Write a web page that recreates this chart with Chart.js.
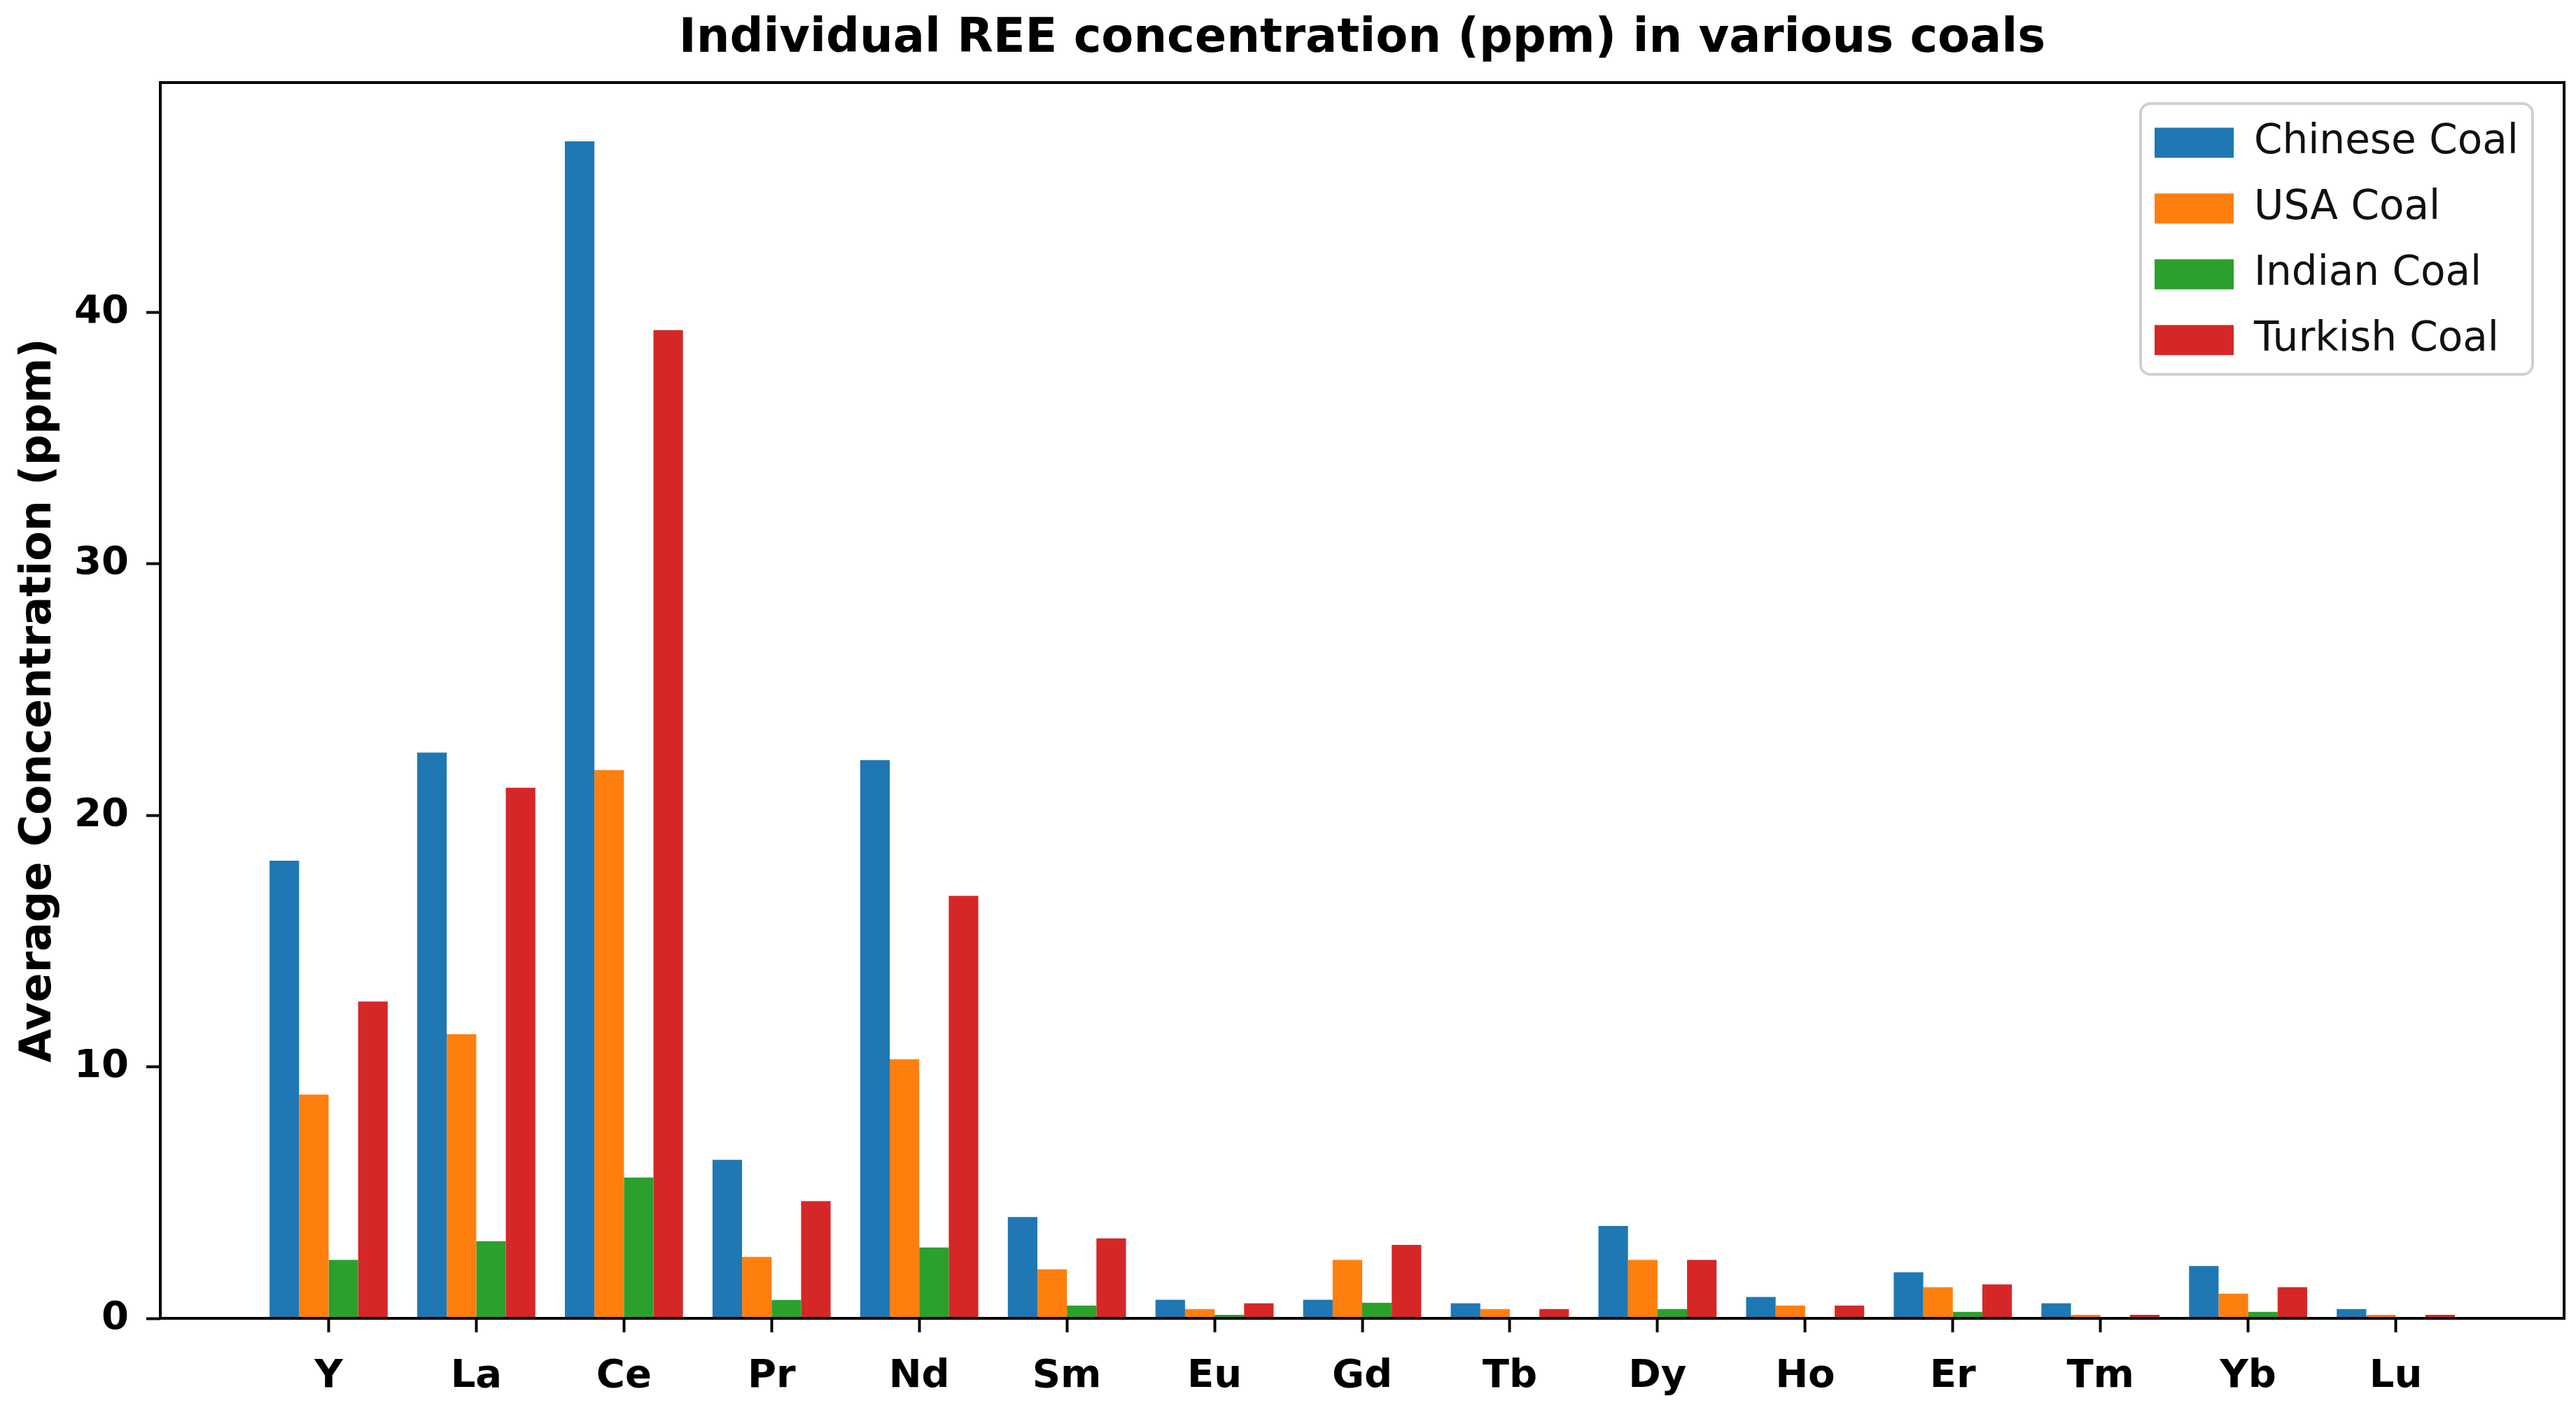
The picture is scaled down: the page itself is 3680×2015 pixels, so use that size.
<!DOCTYPE html>
<html>
<head>
<meta charset="utf-8">
<script src="https://cdn.jsdelivr.net/npm/chart.js@4.4.1/dist/chart.umd.min.js"></script>
<style>
  html, body { margin: 0; padding: 0; background: #ffffff; overflow: hidden; }
  #c { display: block; width: 3680px; height: 2015px; }
</style>
</head>
<body>
<canvas id="c" width="3680" height="2015"></canvas>
<script>
// ---- data ----
const categories = ['Y', 'La', 'Ce', 'Pr', 'Nd', 'Sm', 'Eu', 'Gd', 'Tb', 'Dy', 'Ho', 'Er', 'Tm', 'Yb', 'Lu'];
const chineseCoal = [18.2, 22.5, 46.8, 6.3, 22.2, 4.03, 0.74, 0.74, 0.6, 3.67, 0.85, 1.83, 0.6, 2.08, 0.37];
const usaCoal     = [8.9, 11.3, 21.8, 2.44, 10.3, 1.95, 0.37, 2.32, 0.37, 2.32, 0.51, 1.24, 0.14, 0.98, 0.14];
const indianCoal  = [2.32, 3.07, 5.6, 0.73, 2.82, 0.51, 0.14, 0.62, 0, 0.37, 0, 0.26, 0, 0.26, 0];
const turkishCoal = [12.6, 21.1, 39.3, 4.66, 16.8, 3.18, 0.6, 2.92, 0.37, 2.32, 0.51, 1.35, 0.14, 1.24, 0.14];
const seriesNames = ['Chinese Coal', 'USA Coal', 'Indian Coal', 'Turkish Coal'];
const yTicks = [0, 10, 20, 30, 40];
const xRange = [-1.14, 15.14];
const yRange = [0, 49.14];

const seriesValues = [chineseCoal, usaCoal, indianCoal, turkishCoal];
const seriesColors = ['#1f77b4', '#ff7f0e', '#2ca02c', '#d62728'];

Chart.defaults.font.family = "'DejaVu Sans', sans-serif";
Chart.defaults.color = '#000000';

const datasets = seriesNames.map((name, k) => ({
  label: name,
  data: seriesValues[k].map((v, i) => ({ x: i, y: v })),
  backgroundColor: seriesColors[k],
  borderWidth: 0,
  categoryPercentage: 0.8,
  barPercentage: 1.0
}));

const frameAndSpines = {
  id: 'frameAndSpines',
  beforeDraw(chart) {
    const ca = chart.chartArea;
    const ctx = chart.ctx;
    // legend frame (matplotlib style, upper right)
    const fx = ca.right - 605, fy = ca.top + 30, fw = 560, fh = 387, r = 14;
    ctx.save();
    ctx.beginPath();
    ctx.moveTo(fx + r, fy);
    ctx.arcTo(fx + fw, fy, fx + fw, fy + fh, r);
    ctx.arcTo(fx + fw, fy + fh, fx, fy + fh, r);
    ctx.arcTo(fx, fy + fh, fx, fy, r);
    ctx.arcTo(fx, fy, fx + fw, fy, r);
    ctx.closePath();
    ctx.fillStyle = 'rgba(255,255,255,0.8)';
    ctx.fill();
    ctx.lineWidth = 4;
    ctx.strokeStyle = '#d0d0d0';
    ctx.stroke();
    ctx.restore();
    // move built-in legend inside the frame
    const lg = chart.legend;
    if (lg) {
      const pad = lg.options.labels.padding;
      const w = lg.width, h = lg.height;
      lg.left = fx + 20 - pad;
      lg.right = lg.left + w;
      lg.top = fy + 27 - pad;
      lg.bottom = lg.top + h;
    }
  },
  afterDatasetsDraw(chart) {
    const ca = chart.chartArea;
    const ctx = chart.ctx;
    ctx.save();
    ctx.lineWidth = 4;
    ctx.strokeStyle = '#000000';
    ctx.strokeRect(ca.left, ca.top, ca.right - ca.left, ca.bottom - ca.top);
    ctx.restore();
  }
};

new Chart(document.getElementById('c'), {
  type: 'bar',
  data: { datasets },
  plugins: [frameAndSpines],
  options: {
    responsive: false,
    devicePixelRatio: 1,
    animation: false,
    layout: { padding: { left: 0, right: 17, top: 0, bottom: 0 } },
    plugins: {
      title: {
        display: true,
        fullSize: false,
        text: 'Individual REE concentration (ppm) in various coals',
        color: '#000000',
        font: { size: 67, weight: 'bold' },
        padding: { top: 16, bottom: 21.6 }
      },
      legend: {
        display: true,
        position: 'chartArea',
        align: 'start',
        labels: {
          boxWidth: 113,
          boxHeight: 43,
          padding: 36,
          color: '#111111',
          font: { size: 58 }
        }
      },
      tooltip: { enabled: false }
    },
    scales: {
      x: {
        type: 'linear',
        bounds: 'data',
        min: xRange[0],
        max: xRange[1],
        offset: false,
        grid: { display: true, offset: false, drawOnChartArea: false, drawTicks: true, tickLength: 20, tickWidth: 4, tickColor: '#000000' },
        border: { display: false },
        afterBuildTicks: (s) => { s.ticks = categories.map((_, i) => ({ value: i })); },
        afterFit: (s) => { s.height = 131; },
        ticks: {
          autoSkip: false,
          maxRotation: 0,
          minRotation: 0,
          padding: 30,
          color: '#000000',
          font: { size: 56, weight: 'bold' },
          callback: (v) => categories[v]
        }
      },
      y: {
        type: 'linear',
        bounds: 'data',
        min: yRange[0],
        max: yRange[1],
        grid: { display: true, drawOnChartArea: false, drawTicks: true, tickLength: 20, tickWidth: 4, tickColor: '#000000' },
        border: { display: false },
        afterBuildTicks: (s) => { s.ticks = yTicks.map(v => ({ value: v })); },
        afterFit: (s) => { s.width = 229; },
        ticks: {
          padding: 25,
          color: '#000000',
          font: { size: 56, weight: 'bold' }
        },
        title: {
          display: true,
          text: 'Average Concentration (ppm)',
          color: '#000000',
          font: { size: 62, weight: 'bold' },
          padding: { top: 19, bottom: 0 }
        }
      }
    }
  }
});
</script>
</body>
</html>
